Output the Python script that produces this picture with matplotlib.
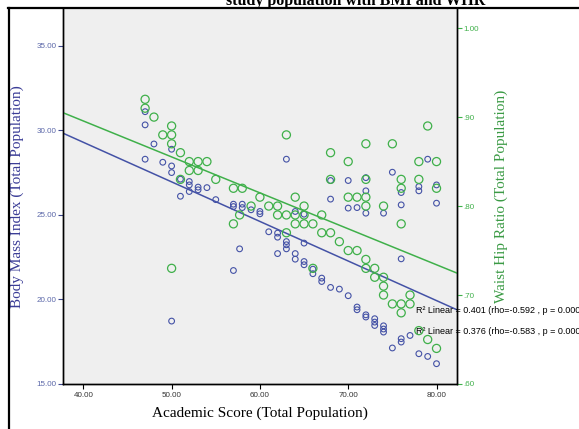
import matplotlib
matplotlib.use("Agg")
import matplotlib.pyplot as plt
import numpy as np
from matplotlib.lines import Line2D

# Body Mass Index vs academic score (blue, left axis)
bmi_score = [47, 47, 48, 50, 47, 49, 50, 50, 51, 52, 52, 53, 53, 52, 54, 51, 55, 57, 57, 58,
             58, 59, 60, 60, 61, 62, 62, 63, 63, 63, 62, 64, 64, 57.7, 57, 50, 63,
             79, 75, 70, 68, 72, 72, 76, 78, 78, 80, 68, 80, 76, 70, 71, 72, 74, 64, 65,
             65, 76, 65, 65, 66, 66, 67, 67, 68, 69, 70, 71, 71, 72, 72, 73, 73, 73, 74,
             74, 74, 76, 76, 77, 75, 78, 79, 80]
bmi_value = [31.10, 30.32, 29.19, 28.88, 28.29, 28.11, 27.89, 27.50, 27.11, 26.97, 26.77, 26.64,
             26.48, 26.38, 26.61, 26.10, 25.90, 25.63, 25.49, 25.63, 25.43, 25.30, 25.20, 25.06,
             24.00, 23.92, 23.68, 23.42, 23.23, 22.99, 22.71, 22.71, 22.38, 22.99, 21.71, 18.72,
             28.29,
             28.29, 27.52, 27.03, 27.03, 27.20, 26.42, 26.32, 26.67, 26.42, 26.77, 25.93, 25.69,
             25.59, 25.40, 25.43, 25.10, 25.10, 25.20, 25.04, 23.33, 22.40, 22.24, 22.05, 21.79,
             21.52, 21.26, 21.06, 20.71, 20.61, 20.22, 19.55, 19.39, 19.09, 18.96, 18.86, 18.66,
             18.46, 18.44, 18.25, 18.07, 17.68, 17.48, 17.87, 17.13, 16.79, 16.63, 16.20]

# Waist hip ratio vs academic score (green, right axis)
whr_score = [47, 47, 48, 50, 49, 50, 50, 51, 52, 53, 54, 52, 53, 51, 55, 57, 58, 60, 59, 61,
             62, 62, 63, 64, 57.7, 57, 63, 64, 64, 63, 50,
             79, 72, 75, 68, 70, 78, 80, 68, 72, 76, 78, 76, 80, 70, 71, 72, 72, 74, 65, 65,
             67, 76, 65, 66, 67, 68, 69, 70, 71, 72, 73, 72, 73, 74, 74, 74, 75, 76, 77, 77,
             76, 66, 79, 80, 78]
whr_value = [0.92, 0.91, 0.90, 0.89, 0.88, 0.88, 0.87, 0.86, 0.85, 0.85, 0.85, 0.84, 0.84, 0.83,
             0.83, 0.82, 0.82, 0.81, 0.80, 0.80, 0.80, 0.79, 0.79, 0.79, 0.79, 0.78, 0.77, 0.81,
             0.78, 0.88, 0.73,
             0.89, 0.87, 0.87, 0.86, 0.85, 0.85, 0.85, 0.83, 0.83, 0.83, 0.83, 0.82, 0.82, 0.81,
             0.81, 0.81, 0.80, 0.80, 0.80, 0.79, 0.79, 0.78, 0.78, 0.78, 0.77, 0.77, 0.76, 0.75,
             0.75, 0.74, 0.73, 0.73, 0.72, 0.72, 0.71, 0.70, 0.69, 0.69, 0.70, 0.69, 0.68, 0.73,
             0.65, 0.64, 0.66]

# fit lines (intercept, slope)
bmi_fit = (38.65, -0.2340)
whr_fit = (1.0573, -0.004041)

x_ticks = [40, 50, 60, 70, 80]
bmi_ticks = [15, 20, 25, 30, 35]
whr_ticks = [0.6, 0.7, 0.8, 0.9, 1.0]
notes = ["R\u00b2 Linear = 0.401 (rho=-0.592 , p = 0.000)",
         "R\u00b2 Linear = 0.376 (rho=-0.583 , p = 0.000)"]

blue = "#4452a6"
green = "#3fb04a"
serif = "Liberation Serif"
sans = "Liberation Sans"

W, H = 579, 429
fig = plt.figure(figsize=(W / 100, H / 100), dpi=100)
ax = fig.add_axes([63 / W, 1 - 384 / H, 394 / W, 375 / H])
ax.set_facecolor("#efefef")
ax2 = ax.twinx()

ax.set_xlim(37.70, 82.32)
ax.set_ylim(15.0, 37.17)
ax2.set_ylim(0.603, 1.0215)

xs = np.array([37.70, 82.32])
ax.plot(xs, bmi_fit[0] + bmi_fit[1] * xs, color=blue, lw=1.1, zorder=2)
ax2.plot(xs, whr_fit[0] + whr_fit[1] * xs, color=green, lw=1.1, zorder=2)

ax.scatter(bmi_score, bmi_value, s=17, facecolors="none", edgecolors=blue, linewidths=0.8, zorder=3)
ax2.scatter(whr_score, whr_value, s=34, facecolors="none", edgecolors=green, linewidths=0.9, zorder=3)

ax.set_xticks(x_ticks)
ax.set_xticklabels(["%.2f" % v for v in x_ticks], fontsize=5.8, family=sans, color="#333333")
ax.set_yticks(bmi_ticks)
ax.set_yticklabels(["%.2f" % v for v in bmi_ticks], fontsize=5.8, family=sans, color="#5a66a8")
ax2.set_yticks(whr_ticks)
ax2.set_yticklabels([("%.2f" % v).lstrip("0") for v in whr_ticks], fontsize=5.8, family=sans, color=green)

ax.tick_params(axis="x", length=3.5, width=0.8, color="black", pad=2)
ax.tick_params(axis="y", length=3.5, width=0.8, color="#3c4890", pad=1)
ax2.tick_params(axis="y", length=3.5, width=0.8, color=green, pad=1)

for a in (ax, ax2):
    a.spines["top"].set_visible(False)
    for s in ("left", "right", "bottom"):
        a.spines[s].set_color("black")
        a.spines[s].set_linewidth(1.0)

ax.set_xlabel("Academic Score (Total Population)", family=serif, fontsize=11, labelpad=6)
ax.set_ylabel("Body Mass Index (Total Population)", family=serif, fontsize=11,
              color="#3a3c96", labelpad=9)
ax2.set_ylabel("Waist Hip Ratio (Total Population)", family=serif, fontsize=11,
               color="#3a9a44", labelpad=11)

ax2.text(0.896, 0.197, notes[0], transform=ax.transAxes, fontsize=6.5, family=sans,
         va="center", ha="left", clip_on=False, zorder=1)
ax2.text(0.896, 0.139, notes[1], transform=ax.transAxes, fontsize=6.5, family=sans,
         va="center", ha="left", clip_on=False, zorder=1)

# outer frame and the cut title of the original export
fig.add_artist(Line2D([8 / W, 1], [1 - 7.5 / H, 1 - 7.5 / H], color="black", lw=1.6))
fig.add_artist(Line2D([8.5 / W, 8.5 / W], [0, 1 - 7.5 / H], color="black", lw=1.6))
fig.text(356 / W, 1 - 5 / H, "study population with BMI and WHR", family=serif,
         fontsize=11.5, fontweight="bold", ha="center", va="baseline")

fig.savefig("out.png", dpi=100)
